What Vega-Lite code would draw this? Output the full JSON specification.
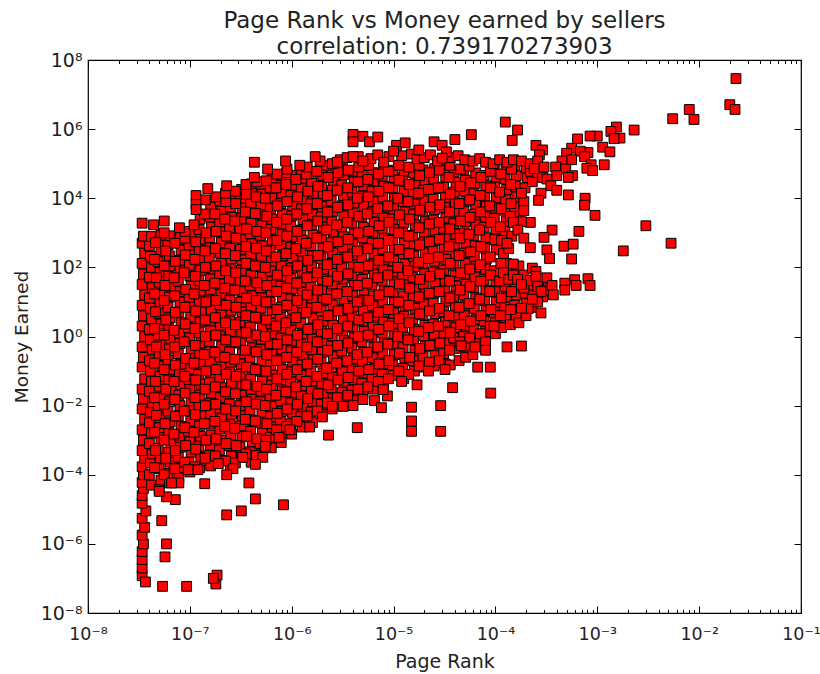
{"$schema":"https://vega.github.io/schema/vega-lite/v6.json","width":713,"height":553,"autosize":{"type":"none"},"padding":{"left":88,"top":60,"right":19,"bottom":61},"background":"#ffffff","title":{"text":["Page Rank vs Money earned by sellers","correlation: 0.739170273903"],"font":"DejaVu Sans","fontSize":23,"fontWeight":"normal","color":"#222222","lineHeight":26,"offset":-8},"config":{"view":{"stroke":"#000000","strokeWidth":1.2},"font":"DejaVu Sans"},"data":{"values":[
{"rank":3.4e-8,"money":1.2e-7},{"rank":3.4e-8,"money":2e-7},{"rank":3.4e-8,"money":3.5e-7},{"rank":3.4e-8,"money":6e-7},{"rank":3.5e-8,"money":1e-6},{"rank":3.4e-8,"money":1.8e-6},{"rank":3.6e-8,"money":3e-6},{"rank":3.4e-8,"money":5.5e-6},{"rank":3.7e-8,"money":9e-6},{"rank":3.4e-8,"money":1.5e-5},{"rank":3.4e-8,"money":2.5e-5},{"rank":3.5e-8,"money":4e-5},{"rank":3.4e-8,"money":6e-5},{"rank":3.5e-8,"money":1e-4},{"rank":3.4e-8,"money":1.7e-4},{"rank":3.6e-8,"money":3e-4},{"rank":3.4e-8,"money":5e-4},{"rank":3.5e-8,"money":1e-3},{"rank":3.4e-8,"money":2e-3},{"rank":3.6e-8,"money":4e-3},{"rank":3.4e-8,"money":8e-3},{"rank":3.5e-8,"money":0.016},{"rank":3.4e-8,"money":0.03},{"rank":3.6e-8,"money":0.06},{"rank":3.4e-8,"money":0.13},{"rank":3.5e-8,"money":0.25},{"rank":3.4e-8,"money":0.5},{"rank":3.6e-8,"money":1},{"rank":3.4e-8,"money":2},{"rank":3.5e-8,"money":4},{"rank":3.4e-8,"money":8},{"rank":3.6e-8,"money":16},{"rank":3.4e-8,"money":32},{"rank":3.5e-8,"money":64},{"rank":3.4e-8,"money":130},{"rank":3.6e-8,"money":260},{"rank":3.4e-8,"money":500},{"rank":3.5e-8,"money":800},
{"rank":4.2e-8,"money":5e-5},{"rank":4e-8,"money":1e-4},{"rank":4.1e-8,"money":2.2e-4},{"rank":4.3e-8,"money":4e-4},{"rank":4e-8,"money":8e-4},{"rank":4.2e-8,"money":1.6e-3},{"rank":4e-8,"money":3.2e-3},{"rank":4.1e-8,"money":6.5e-3},{"rank":4.3e-8,"money":0.012},{"rank":4e-8,"money":0.026},{"rank":4.2e-8,"money":0.05},{"rank":4.1e-8,"money":0.1},{"rank":4e-8,"money":0.2},{"rank":4.3e-8,"money":0.42},{"rank":4.1e-8,"money":0.8},{"rank":4e-8,"money":1.6},{"rank":4.2e-8,"money":3.3},{"rank":4.1e-8,"money":6.5},{"rank":4e-8,"money":13},{"rank":4.3e-8,"money":26},{"rank":4e-8,"money":52},{"rank":4.2e-8,"money":100},{"rank":4.1e-8,"money":210},{"rank":4e-8,"money":420},{"rank":4.2e-8,"money":780},
{"rank":5e-8,"money":3.8e-5},{"rank":5.2e-8,"money":7e-5},{"rank":5e-8,"money":1.5e-4},{"rank":5.1e-8,"money":2.9e-4},{"rank":4.9e-8,"money":5.8e-4},{"rank":5.2e-8,"money":1.1e-3},{"rank":5e-8,"money":2.3e-3},{"rank":5.1e-8,"money":4.5e-3},{"rank":4.9e-8,"money":9e-3},{"rank":5.2e-8,"money":0.018},{"rank":5e-8,"money":0.036},{"rank":5.1e-8,"money":0.07},{"rank":5.3e-8,"money":0.14},{"rank":5e-8,"money":0.28},{"rank":5.1e-8,"money":0.58},{"rank":4.9e-8,"money":1.1},{"rank":5.2e-8,"money":2.3},{"rank":5e-8,"money":4.6},{"rank":5.1e-8,"money":9},{"rank":5.3e-8,"money":18},{"rank":5e-8,"money":37},{"rank":5.1e-8,"money":72},{"rank":4.9e-8,"money":145},{"rank":5.2e-8,"money":290},{"rank":5e-8,"money":560},{"rank":5.2e-8,"money":850},
{"rank":6.3e-8,"money":5.8e-5},{"rank":6.1e-8,"money":1.1e-4},{"rank":6.4e-8,"money":2.3e-4},{"rank":6.2e-8,"money":4.4e-4},{"rank":6.5e-8,"money":8.5e-4},{"rank":6.2e-8,"money":1.7e-3},{"rank":6.4e-8,"money":3.4e-3},{"rank":6.1e-8,"money":7e-3},{"rank":6.3e-8,"money":0.013},{"rank":6.5e-8,"money":0.027},{"rank":6.2e-8,"money":0.055},{"rank":6.4e-8,"money":0.11},{"rank":6.1e-8,"money":0.21},{"rank":6.3e-8,"money":0.44},{"rank":6.5e-8,"money":0.85},{"rank":6.2e-8,"money":1.7},{"rank":6.4e-8,"money":3.5},{"rank":6.1e-8,"money":7},{"rank":6.3e-8,"money":14},{"rank":6.5e-8,"money":27},{"rank":6.2e-8,"money":55},{"rank":6.4e-8,"money":110},{"rank":6.3e-8,"money":215},{"rank":6.1e-8,"money":440},{"rank":6.4e-8,"money":820},
{"rank":7.8e-8,"money":8e-5},{"rank":8e-8,"money":1.6e-4},{"rank":7.7e-8,"money":3.2e-4},{"rank":8.1e-8,"money":6.3e-4},{"rank":7.9e-8,"money":1.3e-3},{"rank":8.2e-8,"money":2.5e-3},{"rank":7.7e-8,"money":5e-3},{"rank":8e-8,"money":0.01},{"rank":7.8e-8,"money":0.02},{"rank":8.2e-8,"money":0.04},{"rank":7.9e-8,"money":0.08},{"rank":8.1e-8,"money":0.16},{"rank":7.7e-8,"money":0.32},{"rank":8e-8,"money":0.63},{"rank":7.9e-8,"money":1.25},{"rank":8.2e-8,"money":2.5},{"rank":7.8e-8,"money":5},{"rank":8e-8,"money":10},{"rank":8.1e-8,"money":20},{"rank":7.7e-8,"money":40},{"rank":8e-8,"money":80},{"rank":7.9e-8,"money":160},{"rank":8.2e-8,"money":320},{"rank":7.8e-8,"money":630},{"rank":8.1e-8,"money":950},
{"rank":1e-7,"money":1.2e-4},{"rank":9.8e-8,"money":2.3e-4},{"rank":1.03e-7,"money":4.5e-4},{"rank":1e-7,"money":9e-4},{"rank":9.7e-8,"money":1.8e-3},{"rank":1.02e-7,"money":3.6e-3},{"rank":9.9e-8,"money":7.2e-3},{"rank":1.03e-7,"money":0.014},{"rank":1e-7,"money":0.029},{"rank":9.8e-8,"money":0.057},{"rank":1.02e-7,"money":0.115},{"rank":9.9e-8,"money":0.23},{"rank":1.03e-7,"money":0.45},{"rank":1e-7,"money":0.9},{"rank":9.7e-8,"money":1.8},{"rank":1.02e-7,"money":3.6},{"rank":1e-7,"money":7.2},{"rank":9.8e-8,"money":14},{"rank":1.03e-7,"money":29},{"rank":1e-7,"money":57},{"rank":9.9e-8,"money":115},{"rank":1.02e-7,"money":230},{"rank":9.8e-8,"money":450},{"rank":1.03e-7,"money":900},
{"rank":1.25e-7,"money":1.6e-4},{"rank":1.28e-7,"money":3.2e-4},{"rank":1.22e-7,"money":6.5e-4},{"rank":1.27e-7,"money":1.3e-3},{"rank":1.24e-7,"money":2.6e-3},{"rank":1.29e-7,"money":5e-3},{"rank":1.23e-7,"money":0.01},{"rank":1.26e-7,"money":0.02},{"rank":1.28e-7,"money":0.041},{"rank":1.22e-7,"money":0.08},{"rank":1.27e-7,"money":0.16},{"rank":1.25e-7,"money":0.33},{"rank":1.29e-7,"money":0.65},{"rank":1.23e-7,"money":1.3},{"rank":1.26e-7,"money":2.6},{"rank":1.28e-7,"money":5.2},{"rank":1.24e-7,"money":10.5},{"rank":1.27e-7,"money":21},{"rank":1.22e-7,"money":42},{"rank":1.26e-7,"money":82},{"rank":1.29e-7,"money":165},{"rank":1.24e-7,"money":330},{"rank":1.27e-7,"money":650},{"rank":1.23e-7,"money":1250},{"rank":1.26e-7,"money":2500},
{"rank":1.6e-7,"money":1.8e-4},{"rank":1.55e-7,"money":3.6e-4},{"rank":1.58e-7,"money":7.2e-4},{"rank":1.62e-7,"money":1.4e-3},{"rank":1.55e-7,"money":2.9e-3},{"rank":1.6e-7,"money":5.8e-3},{"rank":1.57e-7,"money":0.0115},{"rank":1.63e-7,"money":0.023},{"rank":1.56e-7,"money":0.046},{"rank":1.6e-7,"money":0.09},{"rank":1.58e-7,"money":0.18},{"rank":1.62e-7,"money":0.37},{"rank":1.55e-7,"money":0.72},{"rank":1.6e-7,"money":1.45},{"rank":1.57e-7,"money":2.9},{"rank":1.63e-7,"money":5.8},{"rank":1.56e-7,"money":11.5},{"rank":1.6e-7,"money":23},{"rank":1.58e-7,"money":46},{"rank":1.62e-7,"money":92},{"rank":1.55e-7,"money":185},{"rank":1.6e-7,"money":370},{"rank":1.57e-7,"money":720},{"rank":1.63e-7,"money":1450},{"rank":1.58e-7,"money":2900},{"rank":1.6e-7,"money":5500},
{"rank":2e-7,"money":2.6e-4},{"rank":1.95e-7,"money":5.2e-4},{"rank":2.03e-7,"money":1e-3},{"rank":1.97e-7,"money":2.1e-3},{"rank":2.05e-7,"money":4.2e-3},{"rank":1.98e-7,"money":8.4e-3},{"rank":2e-7,"money":0.017},{"rank":2.04e-7,"money":0.033},{"rank":1.96e-7,"money":0.066},{"rank":2.02e-7,"money":0.13},{"rank":1.98e-7,"money":0.26},{"rank":2.05e-7,"money":0.52},{"rank":1.95e-7,"money":1.05},{"rank":2e-7,"money":2.1},{"rank":2.03e-7,"money":4.2},{"rank":1.97e-7,"money":8.4},{"rank":2.05e-7,"money":17},{"rank":2e-7,"money":33},{"rank":1.96e-7,"money":66},{"rank":2.02e-7,"money":130},{"rank":1.98e-7,"money":260},{"rank":2.04e-7,"money":520},{"rank":2e-7,"money":1050},{"rank":1.96e-7,"money":2100},{"rank":2.03e-7,"money":4200},{"rank":1.97e-7,"money":8400},
{"rank":2.5e-7,"money":1.7e-4},{"rank":2.55e-7,"money":3.4e-4},{"rank":2.45e-7,"money":7e-4},{"rank":2.52e-7,"money":1.4e-3},{"rank":2.48e-7,"money":2.8e-3},{"rank":2.57e-7,"money":5.6e-3},{"rank":2.44e-7,"money":0.011},{"rank":2.5e-7,"money":0.022},{"rank":2.55e-7,"money":0.045},{"rank":2.47e-7,"money":0.09},{"rank":2.52e-7,"money":0.18},{"rank":2.45e-7,"money":0.36},{"rank":2.56e-7,"money":0.7},{"rank":2.5e-7,"money":1.4},{"rank":2.46e-7,"money":2.8},{"rank":2.54e-7,"money":5.7},{"rank":2.48e-7,"money":11},{"rank":2.56e-7,"money":22},{"rank":2.44e-7,"money":45},{"rank":2.5e-7,"money":90},{"rank":2.55e-7,"money":180},{"rank":2.47e-7,"money":360},{"rank":2.52e-7,"money":720},{"rank":2.45e-7,"money":1400},{"rank":2.56e-7,"money":2800},{"rank":2.5e-7,"money":5600},{"rank":2.47e-7,"money":11000},
{"rank":3.2e-7,"money":3.2e-4},{"rank":3.1e-7,"money":6.4e-4},{"rank":3.24e-7,"money":1.3e-3},{"rank":3.15e-7,"money":2.6e-3},{"rank":3.27e-7,"money":5.1e-3},{"rank":3.1e-7,"money":0.01},{"rank":3.2e-7,"money":0.02},{"rank":3.25e-7,"money":0.04},{"rank":3.12e-7,"money":0.08},{"rank":3.2e-7,"money":0.16},{"rank":3.28e-7,"money":0.32},{"rank":3.14e-7,"money":0.64},{"rank":3.22e-7,"money":1.3},{"rank":3.1e-7,"money":2.6},{"rank":3.25e-7,"money":5.2},{"rank":3.16e-7,"money":10},{"rank":3.27e-7,"money":20},{"rank":3.12e-7,"money":41},{"rank":3.2e-7,"money":82},{"rank":3.24e-7,"money":165},{"rank":3.14e-7,"money":330},{"rank":3.26e-7,"money":650},{"rank":3.1e-7,"money":1300},{"rank":3.2e-7,"money":2600},{"rank":3.25e-7,"money":5200},{"rank":3.15e-7,"money":10000},{"rank":3.22e-7,"money":18000},
{"rank":4e-7,"money":2.3e-4},{"rank":3.9e-7,"money":4.6e-4},{"rank":4.1e-7,"money":9e-4},{"rank":3.95e-7,"money":1.8e-3},{"rank":4.05e-7,"money":3.7e-3},{"rank":3.9e-7,"money":7.4e-3},{"rank":4.1e-7,"money":0.015},{"rank":4e-7,"money":0.03},{"rank":3.95e-7,"money":0.059},{"rank":4.05e-7,"money":0.12},{"rank":3.9e-7,"money":0.24},{"rank":4.1e-7,"money":0.47},{"rank":4e-7,"money":0.95},{"rank":3.92e-7,"money":1.9},{"rank":4.08e-7,"money":3.8},{"rank":3.98e-7,"money":7.5},{"rank":4.1e-7,"money":15},{"rank":3.9e-7,"money":30},{"rank":4e-7,"money":60},{"rank":4.05e-7,"money":120},{"rank":3.95e-7,"money":240},{"rank":4.1e-7,"money":480},{"rank":3.9e-7,"money":950},{"rank":4e-7,"money":1900},{"rank":4.08e-7,"money":3800},{"rank":3.95e-7,"money":7500},{"rank":4.05e-7,"money":15000},{"rank":4e-7,"money":26000},
{"rank":5e-7,"money":4e-4},{"rank":4.9e-7,"money":8e-4},{"rank":5.15e-7,"money":1.6e-3},{"rank":4.95e-7,"money":3.2e-3},{"rank":5.1e-7,"money":6.4e-3},{"rank":4.9e-7,"money":0.013},{"rank":5e-7,"money":0.026},{"rank":5.15e-7,"money":0.052},{"rank":4.95e-7,"money":0.1},{"rank":5.1e-7,"money":0.2},{"rank":4.9e-7,"money":0.42},{"rank":5.05e-7,"money":0.84},{"rank":5.15e-7,"money":1.7},{"rank":4.9e-7,"money":3.3},{"rank":5e-7,"money":6.6},{"rank":5.1e-7,"money":13},{"rank":4.95e-7,"money":26},{"rank":5.15e-7,"money":53},{"rank":4.9e-7,"money":105},{"rank":5.05e-7,"money":210},{"rank":5.15e-7,"money":420},{"rank":4.95e-7,"money":840},{"rank":5.1e-7,"money":1650},{"rank":4.9e-7,"money":3300},{"rank":5e-7,"money":6600},{"rank":5.15e-7,"money":13000},{"rank":4.95e-7,"money":26000},
{"rank":6.3e-7,"money":6e-4},{"rank":6.15e-7,"money":1.2e-3},{"rank":6.45e-7,"money":2.4e-3},{"rank":6.2e-7,"money":4.8e-3},{"rank":6.4e-7,"money":9.6e-3},{"rank":6.15e-7,"money":0.019},{"rank":6.3e-7,"money":0.038},{"rank":6.45e-7,"money":0.077},{"rank":6.2e-7,"money":0.15},{"rank":6.35e-7,"money":0.31},{"rank":6.15e-7,"money":0.62},{"rank":6.45e-7,"money":1.2},{"rank":6.25e-7,"money":2.4},{"rank":6.4e-7,"money":4.9},{"rank":6.15e-7,"money":9.8},{"rank":6.3e-7,"money":20},{"rank":6.45e-7,"money":39},{"rank":6.2e-7,"money":78},{"rank":6.35e-7,"money":155},{"rank":6.15e-7,"money":310},{"rank":6.45e-7,"money":620},{"rank":6.25e-7,"money":1250},{"rank":6.4e-7,"money":2500},{"rank":6.2e-7,"money":5000},{"rank":6.35e-7,"money":10000},{"rank":6.15e-7,"money":20000},{"rank":6.4e-7,"money":38000},
{"rank":7.9e-7,"money":8.5e-4},{"rank":8.1e-7,"money":1.7e-3},{"rank":7.75e-7,"money":3.4e-3},{"rank":8e-7,"money":6.8e-3},{"rank":7.8e-7,"money":0.014},{"rank":8.1e-7,"money":0.027},{"rank":7.9e-7,"money":0.055},{"rank":8.05e-7,"money":0.11},{"rank":7.75e-7,"money":0.22},{"rank":8e-7,"money":0.44},{"rank":7.85e-7,"money":0.88},{"rank":8.1e-7,"money":1.75},{"rank":7.75e-7,"money":3.5},{"rank":7.95e-7,"money":7},{"rank":8.1e-7,"money":14},{"rank":7.8e-7,"money":28},{"rank":8e-7,"money":56},{"rank":7.9e-7,"money":110},{"rank":8.1e-7,"money":220},{"rank":7.75e-7,"money":450},{"rank":8e-7,"money":890},{"rank":7.85e-7,"money":1800},{"rank":8.1e-7,"money":3500},{"rank":7.8e-7,"money":7000},{"rank":8e-7,"money":14000},{"rank":7.9e-7,"money":28000},{"rank":8.05e-7,"money":45000},
{"rank":1e-6,"money":1.5e-3},{"rank":9.75e-7,"money":3e-3},{"rank":1.02e-6,"money":6e-3},{"rank":9.8e-7,"money":0.012},{"rank":1.01e-6,"money":0.024},{"rank":9.75e-7,"money":0.048},{"rank":1e-6,"money":0.095},{"rank":1.02e-6,"money":0.19},{"rank":9.85e-7,"money":0.38},{"rank":1.01e-6,"money":0.76},{"rank":9.75e-7,"money":1.5},{"rank":1e-6,"money":3},{"rank":1.02e-6,"money":6.1},{"rank":9.8e-7,"money":12},{"rank":1.01e-6,"money":24},{"rank":9.75e-7,"money":48},{"rank":1e-6,"money":96},{"rank":1.02e-6,"money":190},{"rank":9.85e-7,"money":380},{"rank":1.01e-6,"money":770},{"rank":9.75e-7,"money":1550},{"rank":1e-6,"money":3100},{"rank":1.02e-6,"money":6100},{"rank":9.8e-7,"money":12000},{"rank":1.01e-6,"money":24000},{"rank":9.85e-7,"money":46000},
{"rank":1.26e-6,"money":2.4e-3},{"rank":1.23e-6,"money":4.8e-3},{"rank":1.29e-6,"money":9.5e-3},{"rank":1.24e-6,"money":0.019},{"rank":1.28e-6,"money":0.038},{"rank":1.23e-6,"money":0.076},{"rank":1.26e-6,"money":0.15},{"rank":1.29e-6,"money":0.3},{"rank":1.24e-6,"money":0.6},{"rank":1.27e-6,"money":1.2},{"rank":1.23e-6,"money":2.4},{"rank":1.29e-6,"money":4.8},{"rank":1.25e-6,"money":9.6},{"rank":1.28e-6,"money":19},{"rank":1.23e-6,"money":38},{"rank":1.26e-6,"money":77},{"rank":1.29e-6,"money":155},{"rank":1.24e-6,"money":300},{"rank":1.27e-6,"money":610},{"rank":1.23e-6,"money":1200},{"rank":1.29e-6,"money":2400},{"rank":1.25e-6,"money":4900},{"rank":1.28e-6,"money":9800},{"rank":1.24e-6,"money":19000},{"rank":1.27e-6,"money":38000},{"rank":1.25e-6,"money":60000},
{"rank":1.6e-6,"money":3.2e-3},{"rank":1.55e-6,"money":6.5e-3},{"rank":1.62e-6,"money":0.013},{"rank":1.56e-6,"money":0.026},{"rank":1.6e-6,"money":0.052},{"rank":1.54e-6,"money":0.1},{"rank":1.63e-6,"money":0.21},{"rank":1.57e-6,"money":0.42},{"rank":1.6e-6,"money":0.84},{"rank":1.55e-6,"money":1.7},{"rank":1.62e-6,"money":3.4},{"rank":1.57e-6,"money":6.7},{"rank":1.6e-6,"money":13},{"rank":1.54e-6,"money":27},{"rank":1.63e-6,"money":54},{"rank":1.57e-6,"money":105},{"rank":1.6e-6,"money":215},{"rank":1.55e-6,"money":430},{"rank":1.62e-6,"money":860},{"rank":1.56e-6,"money":1700},{"rank":1.6e-6,"money":3400},{"rank":1.54e-6,"money":6900},{"rank":1.63e-6,"money":14000},{"rank":1.57e-6,"money":27000},{"rank":1.6e-6,"money":52000},
{"rank":2e-6,"money":5.5e-3},{"rank":1.95e-6,"money":0.011},{"rank":2.05e-6,"money":0.022},{"rank":1.97e-6,"money":0.044},{"rank":2.03e-6,"money":0.088},{"rank":1.94e-6,"money":0.18},{"rank":2e-6,"money":0.35},{"rank":2.05e-6,"money":0.7},{"rank":1.96e-6,"money":1.4},{"rank":2.02e-6,"money":2.8},{"rank":1.95e-6,"money":5.6},{"rank":2.04e-6,"money":11},{"rank":1.97e-6,"money":22},{"rank":2e-6,"money":45},{"rank":2.05e-6,"money":90},{"rank":1.94e-6,"money":180},{"rank":2.02e-6,"money":360},{"rank":1.96e-6,"money":720},{"rank":2.04e-6,"money":1450},{"rank":1.95e-6,"money":2900},{"rank":2e-6,"money":5800},{"rank":2.05e-6,"money":11500},{"rank":1.97e-6,"money":23000},{"rank":2.02e-6,"money":46000},{"rank":1.96e-6,"money":78000},
{"rank":2.5e-6,"money":8e-3},{"rank":2.55e-6,"money":0.016},{"rank":2.44e-6,"money":0.033},{"rank":2.52e-6,"money":0.065},{"rank":2.47e-6,"money":0.13},{"rank":2.56e-6,"money":0.26},{"rank":2.45e-6,"money":0.52},{"rank":2.5e-6,"money":1.05},{"rank":2.54e-6,"money":2.1},{"rank":2.46e-6,"money":4.1},{"rank":2.53e-6,"money":8.2},{"rank":2.44e-6,"money":16},{"rank":2.5e-6,"money":33},{"rank":2.56e-6,"money":66},{"rank":2.47e-6,"money":130},{"rank":2.52e-6,"money":260},{"rank":2.45e-6,"money":520},{"rank":2.55e-6,"money":1050},{"rank":2.48e-6,"money":2100},{"rank":2.53e-6,"money":4200},{"rank":2.44e-6,"money":8400},{"rank":2.5e-6,"money":17000},{"rank":2.56e-6,"money":33000},{"rank":2.47e-6,"money":62000},
{"rank":3.2e-6,"money":0.012},{"rank":3.1e-6,"money":0.024},{"rank":3.25e-6,"money":0.048},{"rank":3.13e-6,"money":0.095},{"rank":3.22e-6,"money":0.19},{"rank":3.1e-6,"money":0.38},{"rank":3.26e-6,"money":0.76},{"rank":3.16e-6,"money":1.5},{"rank":3.22e-6,"money":3},{"rank":3.1e-6,"money":6},{"rank":3.25e-6,"money":12},{"rank":3.14e-6,"money":24},{"rank":3.22e-6,"money":48},{"rank":3.1e-6,"money":96},{"rank":3.26e-6,"money":190},{"rank":3.16e-6,"money":380},{"rank":3.22e-6,"money":770},{"rank":3.1e-6,"money":1500},{"rank":3.25e-6,"money":3100},{"rank":3.14e-6,"money":6100},{"rank":3.22e-6,"money":12000},{"rank":3.1e-6,"money":24000},{"rank":3.25e-6,"money":48000},{"rank":3.16e-6,"money":80000},
{"rank":4e-6,"money":0.014},{"rank":3.9e-6,"money":0.028},{"rank":4.1e-6,"money":0.057},{"rank":3.95e-6,"money":0.11},{"rank":4.05e-6,"money":0.23},{"rank":3.9e-6,"money":0.46},{"rank":4.1e-6,"money":0.92},{"rank":4e-6,"money":1.85},{"rank":3.92e-6,"money":3.7},{"rank":4.07e-6,"money":7.4},{"rank":3.95e-6,"money":15},{"rank":4.1e-6,"money":30},{"rank":3.9e-6,"money":59},{"rank":4e-6,"money":118},{"rank":4.05e-6,"money":235},{"rank":3.95e-6,"money":470},{"rank":4.1e-6,"money":940},{"rank":3.9e-6,"money":1900},{"rank":4e-6,"money":3700},{"rank":4.07e-6,"money":7500},{"rank":3.92e-6,"money":15000},{"rank":4.1e-6,"money":30000},{"rank":3.95e-6,"money":60000},
{"rank":5e-6,"money":0.022},{"rank":4.88e-6,"money":0.044},{"rank":5.12e-6,"money":0.088},{"rank":4.95e-6,"money":0.18},{"rank":5.08e-6,"money":0.35},{"rank":4.9e-6,"money":0.7},{"rank":5.15e-6,"money":1.4},{"rank":4.97e-6,"money":2.8},{"rank":5.05e-6,"money":5.6},{"rank":4.88e-6,"money":11},{"rank":5.12e-6,"money":22},{"rank":4.95e-6,"money":45},{"rank":5.08e-6,"money":90},{"rank":4.9e-6,"money":180},{"rank":5.15e-6,"money":360},{"rank":4.97e-6,"money":720},{"rank":5.05e-6,"money":1450},{"rank":4.88e-6,"money":2900},{"rank":5.12e-6,"money":5800},{"rank":4.95e-6,"money":11500},{"rank":5.08e-6,"money":23000},{"rank":4.9e-6,"money":46000},
{"rank":6.3e-6,"money":0.03},{"rank":6.15e-6,"money":0.06},{"rank":6.45e-6,"money":0.12},{"rank":6.2e-6,"money":0.24},{"rank":6.4e-6,"money":0.48},{"rank":6.15e-6,"money":0.96},{"rank":6.3e-6,"money":1.9},{"rank":6.45e-6,"money":3.9},{"rank":6.2e-6,"money":7.7},{"rank":6.35e-6,"money":15},{"rank":6.15e-6,"money":31},{"rank":6.45e-6,"money":62},{"rank":6.25e-6,"money":125},{"rank":6.4e-6,"money":250},{"rank":6.15e-6,"money":500},{"rank":6.3e-6,"money":1000},{"rank":6.45e-6,"money":2000},{"rank":6.2e-6,"money":4000},{"rank":6.35e-6,"money":8000},{"rank":6.15e-6,"money":16000},{"rank":6.4e-6,"money":32000},{"rank":6.25e-6,"money":55000},
{"rank":8e-6,"money":0.04},{"rank":7.75e-6,"money":0.08},{"rank":8.1e-6,"money":0.16},{"rank":7.85e-6,"money":0.33},{"rank":8.05e-6,"money":0.66},{"rank":7.75e-6,"money":1.3},{"rank":8e-6,"money":2.6},{"rank":8.15e-6,"money":5.2},{"rank":7.85e-6,"money":10.5},{"rank":8.05e-6,"money":21},{"rank":7.75e-6,"money":42},{"rank":8e-6,"money":84},{"rank":8.15e-6,"money":170},{"rank":7.85e-6,"money":340},{"rank":8.05e-6,"money":680},{"rank":7.75e-6,"money":1350},{"rank":8e-6,"money":2700},{"rank":8.15e-6,"money":5400},{"rank":7.85e-6,"money":11000},{"rank":8.05e-6,"money":22000},{"rank":7.75e-6,"money":44000},{"rank":8e-6,"money":75000},
{"rank":1e-5,"money":0.075},{"rank":9.75e-6,"money":0.15},{"rank":1.02e-5,"money":0.3},{"rank":9.85e-6,"money":0.6},{"rank":1.01e-5,"money":1.2},{"rank":9.75e-6,"money":2.4},{"rank":1e-5,"money":4.8},{"rank":1.02e-5,"money":9.6},{"rank":9.85e-6,"money":19},{"rank":1.01e-5,"money":38},{"rank":9.75e-6,"money":77},{"rank":1e-5,"money":155},{"rank":1.02e-5,"money":310},{"rank":9.85e-6,"money":620},{"rank":1.01e-5,"money":1250},{"rank":9.75e-6,"money":2500},{"rank":1e-5,"money":5000},{"rank":1.02e-5,"money":10000},{"rank":9.85e-6,"money":20000},{"rank":1.01e-5,"money":40000},{"rank":9.8e-6,"money":65000},
{"rank":1.26e-5,"money":0.06},{"rank":1.23e-5,"money":0.12},{"rank":1.29e-5,"money":0.24},{"rank":1.24e-5,"money":0.48},{"rank":1.28e-5,"money":0.95},{"rank":1.23e-5,"money":1.9},{"rank":1.26e-5,"money":3.8},{"rank":1.29e-5,"money":7.6},{"rank":1.24e-5,"money":15},{"rank":1.27e-5,"money":31},{"rank":1.23e-5,"money":62},{"rank":1.29e-5,"money":125},{"rank":1.25e-5,"money":250},{"rank":1.28e-5,"money":500},{"rank":1.23e-5,"money":1000},{"rank":1.26e-5,"money":2000},{"rank":1.29e-5,"money":4000},{"rank":1.24e-5,"money":8000},{"rank":1.27e-5,"money":16000},{"rank":1.23e-5,"money":32000},{"rank":1.27e-5,"money":62000},
{"rank":1.6e-5,"money":0.1},{"rank":1.55e-5,"money":0.2},{"rank":1.62e-5,"money":0.4},{"rank":1.57e-5,"money":0.8},{"rank":1.6e-5,"money":1.6},{"rank":1.54e-5,"money":3.2},{"rank":1.63e-5,"money":6.5},{"rank":1.57e-5,"money":13},{"rank":1.6e-5,"money":26},{"rank":1.55e-5,"money":52},{"rank":1.62e-5,"money":105},{"rank":1.57e-5,"money":210},{"rank":1.6e-5,"money":420},{"rank":1.54e-5,"money":840},{"rank":1.63e-5,"money":1700},{"rank":1.57e-5,"money":3400},{"rank":1.6e-5,"money":6800},{"rank":1.55e-5,"money":13500},{"rank":1.62e-5,"money":27000},{"rank":1.57e-5,"money":54000},
{"rank":2e-5,"money":0.13},{"rank":1.95e-5,"money":0.26},{"rank":2.05e-5,"money":0.52},{"rank":1.97e-5,"money":1.05},{"rank":2.03e-5,"money":2.1},{"rank":1.94e-5,"money":4.2},{"rank":2e-5,"money":8.4},{"rank":2.05e-5,"money":17},{"rank":1.96e-5,"money":33},{"rank":2.02e-5,"money":66},{"rank":1.95e-5,"money":130},{"rank":2.04e-5,"money":260},{"rank":1.97e-5,"money":520},{"rank":2e-5,"money":1050},{"rank":2.05e-5,"money":2100},{"rank":1.94e-5,"money":4200},{"rank":2.02e-5,"money":8400},{"rank":1.96e-5,"money":17000},{"rank":2.04e-5,"money":33000},{"rank":1.95e-5,"money":66000},
{"rank":2.5e-5,"money":0.14},{"rank":2.55e-5,"money":0.28},{"rank":2.45e-5,"money":0.57},{"rank":2.52e-5,"money":1.15},{"rank":2.47e-5,"money":2.3},{"rank":2.56e-5,"money":4.6},{"rank":2.45e-5,"money":9.2},{"rank":2.5e-5,"money":18},{"rank":2.54e-5,"money":37},{"rank":2.46e-5,"money":74},{"rank":2.53e-5,"money":150},{"rank":2.44e-5,"money":295},{"rank":2.5e-5,"money":590},{"rank":2.56e-5,"money":1180},{"rank":2.47e-5,"money":2350},{"rank":2.52e-5,"money":4700},{"rank":2.45e-5,"money":9400},{"rank":2.55e-5,"money":19000},{"rank":2.48e-5,"money":37000},{"rank":2.53e-5,"money":72000},
{"rank":3.2e-5,"money":0.16},{"rank":3.1e-5,"money":0.32},{"rank":3.25e-5,"money":0.65},{"rank":3.13e-5,"money":1.3},{"rank":3.22e-5,"money":2.6},{"rank":3.1e-5,"money":5.2},{"rank":3.26e-5,"money":10.5},{"rank":3.16e-5,"money":21},{"rank":3.22e-5,"money":42},{"rank":3.1e-5,"money":84},{"rank":3.25e-5,"money":170},{"rank":3.14e-5,"money":335},{"rank":3.22e-5,"money":670},{"rank":3.1e-5,"money":1350},{"rank":3.26e-5,"money":2700},{"rank":3.16e-5,"money":5400},{"rank":3.22e-5,"money":10500},{"rank":3.1e-5,"money":21000},{"rank":3.25e-5,"money":42000},{"rank":3.14e-5,"money":70000},
{"rank":4e-5,"money":0.45},{"rank":3.9e-5,"money":0.9},{"rank":4.1e-5,"money":1.8},{"rank":3.95e-5,"money":3.6},{"rank":4.05e-5,"money":7.2},{"rank":3.9e-5,"money":14.5},{"rank":4.1e-5,"money":29},{"rank":4e-5,"money":58},{"rank":3.92e-5,"money":115},{"rank":4.07e-5,"money":230},{"rank":3.95e-5,"money":460},{"rank":4.1e-5,"money":920},{"rank":3.9e-5,"money":1850},{"rank":4e-5,"money":3700},{"rank":4.05e-5,"money":7400},{"rank":3.95e-5,"money":15000},{"rank":4.1e-5,"money":29000},{"rank":3.9e-5,"money":58000},
{"rank":5e-5,"money":0.5},{"rank":4.88e-5,"money":1},{"rank":5.12e-5,"money":2},{"rank":4.95e-5,"money":4},{"rank":5.08e-5,"money":8},{"rank":4.9e-5,"money":16},{"rank":5.15e-5,"money":32},{"rank":4.97e-5,"money":64},{"rank":5.05e-5,"money":130},{"rank":4.88e-5,"money":260},{"rank":5.12e-5,"money":510},{"rank":4.95e-5,"money":1000},{"rank":5.08e-5,"money":2050},{"rank":4.9e-5,"money":4100},{"rank":5.15e-5,"money":8200},{"rank":4.97e-5,"money":16500},{"rank":5.05e-5,"money":33000},{"rank":4.9e-5,"money":66000},
{"rank":6.3e-5,"money":0.8},{"rank":6.15e-5,"money":1.6},{"rank":6.45e-5,"money":3.2},{"rank":6.2e-5,"money":6.5},{"rank":6.4e-5,"money":13},{"rank":6.15e-5,"money":26},{"rank":6.3e-5,"money":52},{"rank":6.45e-5,"money":105},{"rank":6.2e-5,"money":210},{"rank":6.35e-5,"money":420},{"rank":6.15e-5,"money":840},{"rank":6.45e-5,"money":1700},{"rank":6.25e-5,"money":3400},{"rank":6.4e-5,"money":6800},{"rank":6.15e-5,"money":13500},{"rank":6.3e-5,"money":27000},{"rank":6.4e-5,"money":54000},
{"rank":8e-5,"money":1.4},{"rank":7.75e-5,"money":2.8},{"rank":8.1e-5,"money":5.6},{"rank":7.85e-5,"money":11},{"rank":8.05e-5,"money":22},{"rank":7.75e-5,"money":45},{"rank":8e-5,"money":90},{"rank":8.15e-5,"money":180},{"rank":7.85e-5,"money":360},{"rank":8.05e-5,"money":720},{"rank":7.75e-5,"money":1450},{"rank":8e-5,"money":2900},{"rank":8.15e-5,"money":5800},{"rank":7.85e-5,"money":11500},{"rank":8.05e-5,"money":23000},{"rank":7.75e-5,"money":46000},
{"rank":1e-4,"money":2.5},{"rank":9.75e-5,"money":5},{"rank":1.02e-4,"money":10},{"rank":9.85e-5,"money":20},{"rank":1.01e-4,"money":40},{"rank":9.75e-5,"money":80},{"rank":1.02e-4,"money":320},{"rank":9.85e-5,"money":640},{"rank":1.01e-4,"money":1300},{"rank":9.75e-5,"money":2600},{"rank":1e-4,"money":5200},{"rank":1.02e-4,"money":10500},{"rank":9.85e-5,"money":21000},{"rank":1.01e-4,"money":42000},{"rank":9.75e-5,"money":70000},
{"rank":1.26e-4,"money":3.5},{"rank":1.23e-4,"money":7},{"rank":1.29e-4,"money":14},{"rank":1.24e-4,"money":28},{"rank":1.28e-4,"money":130},{"rank":1.24e-4,"money":1100},{"rank":1.28e-4,"money":2200},{"rank":1.23e-4,"money":4500},{"rank":1.26e-4,"money":9000},{"rank":1.29e-4,"money":18000},{"rank":1.24e-4,"money":36000},{"rank":1.27e-4,"money":70000},
{"rank":1.6e-4,"money":4},{"rank":1.55e-4,"money":8},{"rank":1.62e-4,"money":16},{"rank":1.57e-4,"money":32},{"rank":1.6e-4,"money":65},{"rank":1.55e-4,"money":5500},{"rank":1.62e-4,"money":11000},{"rank":1.57e-4,"money":22000},{"rank":1.6e-4,"money":45000},{"rank":1.55e-4,"money":90000},
{"rank":2e-4,"money":9},{"rank":1.95e-4,"money":18},{"rank":2.05e-4,"money":36},{"rank":1.95e-4,"money":20000},{"rank":2.05e-4,"money":40000},{"rank":2e-4,"money":75000},
{"rank":3.2e-4,"money":50},{"rank":3.3e-4,"money":26},{"rank":2.3e-4,"money":22},{"rank":2.5e-4,"money":12},{"rank":2.9e-4,"money":14},
{"rank":4.5e-8,"money":1.6e-4},{"rank":4.6e-8,"money":5e-4},{"rank":4.5e-8,"money":1.7e-3},{"rank":4.7e-8,"money":5.2e-3},{"rank":4.5e-8,"money":0.017},{"rank":4.6e-8,"money":0.05},{"rank":4.5e-8,"money":0.17},{"rank":4.7e-8,"money":0.5},{"rank":4.5e-8,"money":1.7},{"rank":4.6e-8,"money":5.2},{"rank":4.5e-8,"money":17},{"rank":4.7e-8,"money":50},{"rank":4.5e-8,"money":170},{"rank":4.6e-8,"money":520},
{"rank":5.6e-8,"money":1e-4},{"rank":5.8e-8,"money":3e-4},{"rank":5.6e-8,"money":1e-3},{"rank":5.7e-8,"money":3e-3},{"rank":5.6e-8,"money":0.011},{"rank":5.8e-8,"money":0.03},{"rank":5.6e-8,"money":0.11},{"rank":5.7e-8,"money":0.3},{"rank":5.6e-8,"money":1.1},{"rank":5.8e-8,"money":3},{"rank":5.6e-8,"money":11},{"rank":5.7e-8,"money":30},{"rank":5.6e-8,"money":110},{"rank":5.8e-8,"money":300},{"rank":5.6e-8,"money":1000},
{"rank":7.1e-8,"money":1.5e-4},{"rank":7.2e-8,"money":5e-4},{"rank":7e-8,"money":1.5e-3},{"rank":7.2e-8,"money":5e-3},{"rank":7.1e-8,"money":0.015},{"rank":7e-8,"money":0.05},{"rank":7.2e-8,"money":0.15},{"rank":7.1e-8,"money":0.5},{"rank":7e-8,"money":1.5},{"rank":7.2e-8,"money":5},{"rank":7.1e-8,"money":15},{"rank":7e-8,"money":50},{"rank":7.2e-8,"money":150},{"rank":7.1e-8,"money":500},
{"rank":8.9e-8,"money":2.3e-4},{"rank":9.1e-8,"money":7e-4},{"rank":8.9e-8,"money":2.3e-3},{"rank":8.8e-8,"money":7e-3},{"rank":9e-8,"money":0.023},{"rank":8.9e-8,"money":0.07},{"rank":9.1e-8,"money":0.23},{"rank":8.8e-8,"money":0.7},{"rank":9e-8,"money":2.3},{"rank":8.9e-8,"money":7},{"rank":9.1e-8,"money":23},{"rank":8.8e-8,"money":70},{"rank":9e-8,"money":230},{"rank":8.9e-8,"money":700},{"rank":9e-8,"money":1100},
{"rank":1.12e-7,"money":1.7e-4},{"rank":1.14e-7,"money":5.5e-4},{"rank":1.1e-7,"money":1.7e-3},{"rank":1.13e-7,"money":5.5e-3},{"rank":1.12e-7,"money":0.017},{"rank":1.14e-7,"money":0.055},{"rank":1.1e-7,"money":0.17},{"rank":1.13e-7,"money":0.55},{"rank":1.12e-7,"money":1.7},{"rank":1.14e-7,"money":5.5},{"rank":1.1e-7,"money":17},{"rank":1.13e-7,"money":55},{"rank":1.12e-7,"money":170},{"rank":1.14e-7,"money":550},{"rank":1.1e-7,"money":1700},
{"rank":1.41e-7,"money":3e-4},{"rank":1.44e-7,"money":1e-3},{"rank":1.39e-7,"money":3e-3},{"rank":1.42e-7,"money":0.01},{"rank":1.41e-7,"money":0.03},{"rank":1.44e-7,"money":0.1},{"rank":1.39e-7,"money":0.3},{"rank":1.42e-7,"money":1},{"rank":1.41e-7,"money":3},{"rank":1.44e-7,"money":10},{"rank":1.39e-7,"money":30},{"rank":1.42e-7,"money":100},{"rank":1.41e-7,"money":300},{"rank":1.44e-7,"money":1000},{"rank":1.39e-7,"money":3500},{"rank":1.42e-7,"money":9000},
{"rank":1.78e-7,"money":3.5e-4},{"rank":1.81e-7,"money":1.1e-3},{"rank":1.76e-7,"money":3.5e-3},{"rank":1.8e-7,"money":0.011},{"rank":1.78e-7,"money":0.035},{"rank":1.81e-7,"money":0.11},{"rank":1.76e-7,"money":0.35},{"rank":1.8e-7,"money":1.1},{"rank":1.78e-7,"money":3.5},{"rank":1.81e-7,"money":11},{"rank":1.76e-7,"money":35},{"rank":1.8e-7,"money":110},{"rank":1.78e-7,"money":350},{"rank":1.81e-7,"money":1100},{"rank":1.76e-7,"money":3500},{"rank":1.8e-7,"money":11000},
{"rank":2.24e-7,"money":2.5e-4},{"rank":2.28e-7,"money":8e-4},{"rank":2.2e-7,"money":2.5e-3},{"rank":2.25e-7,"money":8e-3},{"rank":2.24e-7,"money":0.025},{"rank":2.28e-7,"money":0.08},{"rank":2.2e-7,"money":0.25},{"rank":2.25e-7,"money":0.8},{"rank":2.24e-7,"money":2.5},{"rank":2.28e-7,"money":8},{"rank":2.2e-7,"money":25},{"rank":2.25e-7,"money":80},{"rank":2.24e-7,"money":250},{"rank":2.28e-7,"money":800},{"rank":2.2e-7,"money":2500},{"rank":2.25e-7,"money":8000},{"rank":2.24e-7,"money":14000},
{"rank":2.8e-7,"money":2.2e-4},{"rank":2.85e-7,"money":7e-4},{"rank":2.76e-7,"money":2.2e-3},{"rank":2.82e-7,"money":7e-3},{"rank":2.8e-7,"money":0.022},{"rank":2.85e-7,"money":0.07},{"rank":2.76e-7,"money":0.22},{"rank":2.82e-7,"money":0.7},{"rank":2.8e-7,"money":2.2},{"rank":2.85e-7,"money":7},{"rank":2.76e-7,"money":22},{"rank":2.82e-7,"money":70},{"rank":2.8e-7,"money":220},{"rank":2.85e-7,"money":700},{"rank":2.76e-7,"money":2200},{"rank":2.82e-7,"money":7000},{"rank":2.8e-7,"money":16000},
{"rank":3.55e-7,"money":4e-4},{"rank":3.6e-7,"money":1.3e-3},{"rank":3.5e-7,"money":4e-3},{"rank":3.57e-7,"money":0.013},{"rank":3.55e-7,"money":0.04},{"rank":3.6e-7,"money":0.13},{"rank":3.5e-7,"money":0.4},{"rank":3.57e-7,"money":1.3},{"rank":3.55e-7,"money":4},{"rank":3.6e-7,"money":13},{"rank":3.5e-7,"money":40},{"rank":3.57e-7,"money":130},{"rank":3.55e-7,"money":400},{"rank":3.6e-7,"money":1300},{"rank":3.5e-7,"money":4000},{"rank":3.57e-7,"money":13000},{"rank":3.55e-7,"money":25000},
{"rank":4.5e-7,"money":3.6e-4},{"rank":4.55e-7,"money":1.1e-3},{"rank":4.4e-7,"money":3.6e-3},{"rank":4.5e-7,"money":0.011},{"rank":4.55e-7,"money":0.036},{"rank":4.4e-7,"money":0.11},{"rank":4.5e-7,"money":0.36},{"rank":4.55e-7,"money":1.1},{"rank":4.4e-7,"money":3.6},{"rank":4.5e-7,"money":11},{"rank":4.55e-7,"money":36},{"rank":4.4e-7,"money":110},{"rank":4.5e-7,"money":360},{"rank":4.55e-7,"money":1100},{"rank":4.4e-7,"money":3600},{"rank":4.5e-7,"money":11000},{"rank":4.55e-7,"money":30000},
{"rank":5.6e-7,"money":1e-3},{"rank":5.7e-7,"money":3e-3},{"rank":5.5e-7,"money":0.01},{"rank":5.65e-7,"money":0.03},{"rank":5.6e-7,"money":0.1},{"rank":5.7e-7,"money":0.3},{"rank":5.5e-7,"money":1},{"rank":5.65e-7,"money":3},{"rank":5.6e-7,"money":10},{"rank":5.7e-7,"money":30},{"rank":5.5e-7,"money":100},{"rank":5.65e-7,"money":300},{"rank":5.6e-7,"money":1000},{"rank":5.7e-7,"money":3000},{"rank":5.5e-7,"money":10000},{"rank":5.65e-7,"money":32000},
{"rank":7.1e-7,"money":2e-3},{"rank":7.2e-7,"money":6e-3},{"rank":7e-7,"money":0.02},{"rank":7.15e-7,"money":0.06},{"rank":7.1e-7,"money":0.2},{"rank":7.2e-7,"money":0.6},{"rank":7e-7,"money":2},{"rank":7.15e-7,"money":6},{"rank":7.1e-7,"money":20},{"rank":7.2e-7,"money":60},{"rank":7e-7,"money":200},{"rank":7.15e-7,"money":600},{"rank":7.1e-7,"money":2000},{"rank":7.2e-7,"money":6000},{"rank":7e-7,"money":20000},{"rank":7.15e-7,"money":50000},
{"rank":8.9e-7,"money":2.5e-3},{"rank":9e-7,"money":8e-3},{"rank":8.8e-7,"money":0.025},{"rank":8.95e-7,"money":0.08},{"rank":8.9e-7,"money":0.25},{"rank":9e-7,"money":0.8},{"rank":8.8e-7,"money":2.5},{"rank":8.95e-7,"money":8},{"rank":8.9e-7,"money":25},{"rank":9e-7,"money":80},{"rank":8.8e-7,"money":250},{"rank":8.95e-7,"money":800},{"rank":8.9e-7,"money":2500},{"rank":9e-7,"money":8000},{"rank":8.8e-7,"money":25000},{"rank":8.95e-7,"money":55000},
{"rank":1.12e-6,"money":3.5e-3},{"rank":1.14e-6,"money":0.011},{"rank":1.1e-6,"money":0.035},{"rank":1.13e-6,"money":0.11},{"rank":1.12e-6,"money":0.35},{"rank":1.14e-6,"money":1.1},{"rank":1.1e-6,"money":3.5},{"rank":1.13e-6,"money":11},{"rank":1.12e-6,"money":35},{"rank":1.14e-6,"money":110},{"rank":1.1e-6,"money":350},{"rank":1.13e-6,"money":1100},{"rank":1.12e-6,"money":3500},{"rank":1.14e-6,"money":11000},{"rank":1.1e-6,"money":35000},
{"rank":1.41e-6,"money":5e-3},{"rank":1.44e-6,"money":0.016},{"rank":1.39e-6,"money":0.05},{"rank":1.42e-6,"money":0.16},{"rank":1.41e-6,"money":0.5},{"rank":1.44e-6,"money":1.6},{"rank":1.39e-6,"money":5},{"rank":1.42e-6,"money":16},{"rank":1.41e-6,"money":50},{"rank":1.44e-6,"money":160},{"rank":1.39e-6,"money":500},{"rank":1.42e-6,"money":1600},{"rank":1.41e-6,"money":5000},{"rank":1.44e-6,"money":16000},{"rank":1.39e-6,"money":50000},{"rank":1.42e-6,"money":80000},
{"rank":1.78e-6,"money":7e-3},{"rank":1.81e-6,"money":0.022},{"rank":1.76e-6,"money":0.07},{"rank":1.8e-6,"money":0.22},{"rank":1.78e-6,"money":0.7},{"rank":1.81e-6,"money":2.2},{"rank":1.76e-6,"money":7},{"rank":1.8e-6,"money":22},{"rank":1.78e-6,"money":70},{"rank":1.81e-6,"money":220},{"rank":1.76e-6,"money":700},{"rank":1.8e-6,"money":2200},{"rank":1.78e-6,"money":7000},{"rank":1.81e-6,"money":22000},{"rank":1.76e-6,"money":60000},
{"rank":2.24e-6,"money":0.012},{"rank":2.28e-6,"money":0.04},{"rank":2.2e-6,"money":0.12},{"rank":2.25e-6,"money":0.4},{"rank":2.24e-6,"money":1.2},{"rank":2.28e-6,"money":4},{"rank":2.2e-6,"money":12},{"rank":2.25e-6,"money":40},{"rank":2.24e-6,"money":120},{"rank":2.28e-6,"money":400},{"rank":2.2e-6,"money":1200},{"rank":2.25e-6,"money":4000},{"rank":2.24e-6,"money":12000},{"rank":2.28e-6,"money":40000},{"rank":2.2e-6,"money":90000},
{"rank":2.8e-6,"money":0.017},{"rank":2.85e-6,"money":0.055},{"rank":2.76e-6,"money":0.17},{"rank":2.82e-6,"money":0.55},{"rank":2.8e-6,"money":1.7},{"rank":2.85e-6,"money":5.5},{"rank":2.76e-6,"money":17},{"rank":2.82e-6,"money":55},{"rank":2.8e-6,"money":170},{"rank":2.85e-6,"money":550},{"rank":2.76e-6,"money":1700},{"rank":2.82e-6,"money":5500},{"rank":2.8e-6,"money":17000},{"rank":2.85e-6,"money":55000},
{"rank":3.55e-6,"money":0.02},{"rank":3.6e-6,"money":0.065},{"rank":3.5e-6,"money":0.2},{"rank":3.57e-6,"money":0.65},{"rank":3.55e-6,"money":2},{"rank":3.6e-6,"money":6.5},{"rank":3.5e-6,"money":20},{"rank":3.57e-6,"money":65},{"rank":3.55e-6,"money":200},{"rank":3.6e-6,"money":650},{"rank":3.5e-6,"money":2000},{"rank":3.57e-6,"money":6500},{"rank":3.55e-6,"money":20000},{"rank":3.6e-6,"money":65000},
{"rank":4.5e-6,"money":0.03},{"rank":4.55e-6,"money":0.1},{"rank":4.4e-6,"money":0.3},{"rank":4.5e-6,"money":1},{"rank":4.55e-6,"money":3},{"rank":4.4e-6,"money":10},{"rank":4.5e-6,"money":30},{"rank":4.55e-6,"money":100},{"rank":4.4e-6,"money":300},{"rank":4.5e-6,"money":1000},{"rank":4.55e-6,"money":3000},{"rank":4.4e-6,"money":10000},{"rank":4.5e-6,"money":30000},{"rank":4.55e-6,"money":80000},
{"rank":5.6e-6,"money":0.035},{"rank":5.7e-6,"money":0.11},{"rank":5.5e-6,"money":0.35},{"rank":5.65e-6,"money":1.1},{"rank":5.6e-6,"money":3.5},{"rank":5.7e-6,"money":11},{"rank":5.5e-6,"money":35},{"rank":5.65e-6,"money":110},{"rank":5.6e-6,"money":350},{"rank":5.7e-6,"money":1100},{"rank":5.5e-6,"money":3500},{"rank":5.65e-6,"money":11000},{"rank":5.6e-6,"money":35000},{"rank":5.7e-6,"money":90000},
{"rank":7.1e-6,"money":0.05},{"rank":7.2e-6,"money":0.16},{"rank":7e-6,"money":0.5},{"rank":7.15e-6,"money":1.6},{"rank":7.1e-6,"money":5},{"rank":7.2e-6,"money":16},{"rank":7e-6,"money":50},{"rank":7.15e-6,"money":160},{"rank":7.1e-6,"money":500},{"rank":7.2e-6,"money":1600},{"rank":7e-6,"money":5000},{"rank":7.15e-6,"money":16000},{"rank":7.1e-6,"money":50000},
{"rank":8.9e-6,"money":0.06},{"rank":9e-6,"money":0.2},{"rank":8.8e-6,"money":0.6},{"rank":8.95e-6,"money":2},{"rank":8.9e-6,"money":6},{"rank":9e-6,"money":20},{"rank":8.8e-6,"money":60},{"rank":8.95e-6,"money":200},{"rank":8.9e-6,"money":600},{"rank":9e-6,"money":2000},{"rank":8.8e-6,"money":6000},{"rank":8.95e-6,"money":20000},{"rank":8.9e-6,"money":60000},
{"rank":1.12e-5,"money":0.1},{"rank":1.14e-5,"money":0.33},{"rank":1.1e-5,"money":1},{"rank":1.13e-5,"money":3.3},{"rank":1.12e-5,"money":10},{"rank":1.14e-5,"money":33},{"rank":1.1e-5,"money":100},{"rank":1.13e-5,"money":330},{"rank":1.12e-5,"money":1000},{"rank":1.14e-5,"money":3300},{"rank":1.1e-5,"money":10000},{"rank":1.13e-5,"money":33000},{"rank":1.12e-5,"money":90000},
{"rank":1.41e-5,"money":0.08},{"rank":1.44e-5,"money":0.25},{"rank":1.39e-5,"money":0.8},{"rank":1.42e-5,"money":2.5},{"rank":1.41e-5,"money":8},{"rank":1.44e-5,"money":25},{"rank":1.39e-5,"money":80},{"rank":1.42e-5,"money":250},{"rank":1.41e-5,"money":800},{"rank":1.44e-5,"money":2500},{"rank":1.39e-5,"money":8000},{"rank":1.42e-5,"money":25000},{"rank":1.41e-5,"money":80000},
{"rank":1.78e-5,"money":0.14},{"rank":1.81e-5,"money":0.45},{"rank":1.76e-5,"money":1.4},{"rank":1.8e-5,"money":4.5},{"rank":1.78e-5,"money":14},{"rank":1.81e-5,"money":45},{"rank":1.76e-5,"money":140},{"rank":1.8e-5,"money":450},{"rank":1.78e-5,"money":1400},{"rank":1.81e-5,"money":4500},{"rank":1.76e-5,"money":14000},{"rank":1.8e-5,"money":45000},{"rank":1.78e-5,"money":90000},
{"rank":2.24e-5,"money":0.18},{"rank":2.28e-5,"money":0.55},{"rank":2.2e-5,"money":1.8},{"rank":2.25e-5,"money":5.5},{"rank":2.24e-5,"money":18},{"rank":2.28e-5,"money":55},{"rank":2.2e-5,"money":180},{"rank":2.25e-5,"money":550},{"rank":2.24e-5,"money":1800},{"rank":2.28e-5,"money":5500},{"rank":2.2e-5,"money":18000},{"rank":2.25e-5,"money":55000},
{"rank":2.8e-5,"money":0.2},{"rank":2.85e-5,"money":0.65},{"rank":2.76e-5,"money":2},{"rank":2.82e-5,"money":6.5},{"rank":2.8e-5,"money":20},{"rank":2.85e-5,"money":65},{"rank":2.76e-5,"money":200},{"rank":2.82e-5,"money":650},{"rank":2.8e-5,"money":2000},{"rank":2.85e-5,"money":6500},{"rank":2.76e-5,"money":20000},{"rank":2.82e-5,"money":65000},
{"rank":3.55e-5,"money":0.4},{"rank":3.6e-5,"money":1.3},{"rank":3.5e-5,"money":4},{"rank":3.57e-5,"money":13},{"rank":3.55e-5,"money":40},{"rank":3.6e-5,"money":130},{"rank":3.5e-5,"money":400},{"rank":3.57e-5,"money":1300},{"rank":3.55e-5,"money":4000},{"rank":3.6e-5,"money":13000},{"rank":3.5e-5,"money":40000},{"rank":3.57e-5,"money":90000},
{"rank":4.5e-5,"money":0.7},{"rank":4.55e-5,"money":2.2},{"rank":4.4e-5,"money":7},{"rank":4.5e-5,"money":22},{"rank":4.55e-5,"money":70},{"rank":4.4e-5,"money":220},{"rank":4.5e-5,"money":700},{"rank":4.55e-5,"money":2200},{"rank":4.4e-5,"money":7000},{"rank":4.5e-5,"money":22000},{"rank":4.55e-5,"money":70000},
{"rank":5.6e-5,"money":0.9},{"rank":5.7e-5,"money":2.8},{"rank":5.5e-5,"money":9},{"rank":5.65e-5,"money":28},{"rank":5.6e-5,"money":90},{"rank":5.7e-5,"money":280},{"rank":5.5e-5,"money":900},{"rank":5.65e-5,"money":2800},{"rank":5.6e-5,"money":9000},{"rank":5.7e-5,"money":28000},{"rank":5.5e-5,"money":85000},
{"rank":7.1e-5,"money":1.2},{"rank":7.2e-5,"money":4},{"rank":7e-5,"money":12},{"rank":7.15e-5,"money":40},{"rank":7.1e-5,"money":120},{"rank":7.2e-5,"money":400},{"rank":7e-5,"money":1200},{"rank":7.15e-5,"money":4000},{"rank":7.1e-5,"money":12000},{"rank":7.2e-5,"money":40000},
{"rank":8.9e-5,"money":2},{"rank":9e-5,"money":6},{"rank":8.8e-5,"money":20},{"rank":8.95e-5,"money":60},{"rank":8.9e-5,"money":200},{"rank":9e-5,"money":2000},{"rank":8.8e-5,"money":6000},{"rank":8.95e-5,"money":20000},{"rank":8.9e-5,"money":60000},
{"rank":1.12e-4,"money":4},{"rank":1.14e-4,"money":13},{"rank":1.1e-4,"money":40},{"rank":1.13e-4,"money":130},{"rank":1.12e-4,"money":1500},{"rank":1.14e-4,"money":5000},{"rank":1.1e-4,"money":15000},{"rank":1.13e-4,"money":50000},
{"rank":1.41e-4,"money":6},{"rank":1.44e-4,"money":20},{"rank":1.39e-4,"money":60},{"rank":1.42e-4,"money":7000},{"rank":1.41e-4,"money":25000},{"rank":1.44e-4,"money":70000},
{"rank":3.6e-5,"money":0.15},{"rank":4.4e-5,"money":0.2},{"rank":5.1e-5,"money":0.25},{"rank":6e-5,"money":0.3},{"rank":7e-5,"money":0.5},{"rank":8e-5,"money":0.7},{"rank":1e-4,"money":1.2},{"rank":1.15e-4,"money":1.8},{"rank":1.4e-4,"money":2.2},{"rank":1.7e-4,"money":2.5},{"rank":2e-4,"money":4},{"rank":2.3e-4,"money":7},{"rank":2.6e-4,"money":10},{"rank":2.1e-4,"money":6.5},
{"rank":1.2e-4,"money":70},{"rank":1.35e-4,"money":45},{"rank":1.2e-4,"money":250},{"rank":1.35e-4,"money":350},{"rank":1.15e-4,"money":600},{"rank":1.45e-4,"money":800},{"rank":1.7e-4,"money":110},{"rank":1.5e-4,"money":60},{"rank":1.9e-4,"money":60},{"rank":2.1e-4,"money":30},{"rank":1.65e-4,"money":45},{"rank":1.9e-4,"money":25},{"rank":2.2e-4,"money":42},{"rank":2.6e-4,"money":28},{"rank":3e-4,"money":22},{"rank":1.7e-4,"money":3000},{"rank":1.4e-4,"money":3000},{"rank":1.9e-4,"money":8000},{"rank":1.8e-4,"money":14000},{"rank":2.3e-4,"money":30000},{"rank":2.2e-4,"money":60000},{"rank":2.6e-4,"money":55000},{"rank":2.9e-4,"money":40000},
{"rank":9e-7,"money":70000},{"rank":1.2e-6,"money":90000},{"rank":1.9e-6,"money":1.2e5},{"rank":2.5e-6,"money":1e5},{"rank":3e-6,"money":1.3e5},{"rank":3.5e-6,"money":1.5e5},{"rank":4.5e-6,"money":1.6e5},{"rank":6e-6,"money":1.4e5},{"rank":7e-6,"money":1.8e5},{"rank":9e-6,"money":1.6e5},{"rank":1.2e-5,"money":1.7e5},{"rank":1.5e-5,"money":1.9e5},{"rank":1.7e-5,"money":1.4e5},{"rank":2e-5,"money":1.5e5},{"rank":2.3e-5,"money":1.8e5},{"rank":2.7e-5,"money":1.2e5},{"rank":3.6e-5,"money":1.5e5},{"rank":4.3e-5,"money":1.7e5},{"rank":5e-5,"money":1.3e5},{"rank":6e-5,"money":1.2e5},{"rank":7e-5,"money":1.4e5},{"rank":8e-5,"money":1.1e5},{"rank":9.5e-5,"money":1e5},{"rank":1.1e-4,"money":1.3e5},{"rank":1.3e-4,"money":1.1e5},{"rank":1.5e-4,"money":1.3e5},{"rank":1.8e-4,"money":1.2e5},{"rank":2.2e-4,"money":1e5},
{"rank":2.3e-2,"money":2.9e7},{"rank":2e-2,"money":5.1e6},{"rank":2.25e-2,"money":3.7e6},{"rank":8e-3,"money":3.7e6},{"rank":8.9e-3,"money":1.9e6},{"rank":5.5e-3,"money":2e6},{"rank":2.3e-3,"money":9.4e5},{"rank":1.54e-3,"money":1.15e6},{"rank":1.36e-3,"money":8.6e5},{"rank":1.67e-3,"money":5.5e5},{"rank":1.46e-3,"money":5.3e5},{"rank":1e-3,"money":6.3e5},{"rank":8.5e-4,"money":6.3e5},{"rank":6.4e-4,"money":5.2e5},{"rank":1.25e-4,"money":1.6e6},{"rank":1.65e-4,"money":9.4e5},{"rank":1.46e-4,"money":4.7e5},{"rank":5.8e-5,"money":6.9e5},{"rank":4e-5,"money":5e5},{"rank":2.5e-5,"money":4.3e5},{"rank":3e-5,"money":3.4e5},{"rank":3.3e-5,"money":2.2e5},{"rank":1.77e-5,"money":2.5e5},{"rank":3e-5,"money":1.45e5},{"rank":2.5e-4,"money":3.4e5},{"rank":2.9e-4,"money":2.5e5},{"rank":2.7e-4,"money":1.8e5},{"rank":2.6e-4,"money":1.2e5},{"rank":1.13e-3,"money":3e5},{"rank":1.33e-3,"money":2.2e5},{"rank":8.1e-4,"money":2.1e5},{"rank":5.6e-4,"money":2.8e5},{"rank":5e-4,"money":2e5},{"rank":6.8e-4,"money":2.3e5},{"rank":7.5e-4,"money":1.6e5},{"rank":5.6e-4,"money":1.3e5},{"rank":4.5e-4,"money":1.2e5},{"rank":1.17e-3,"money":9.3e4},{"rank":8.7e-4,"money":9.3e4},{"rank":7.9e-4,"money":7.4e4},{"rank":9e-4,"money":6.3e4},{"rank":4.9e-4,"money":7e4},{"rank":3.9e-4,"money":8e4},{"rank":3e-4,"money":8e4},{"rank":2.4e-4,"money":7.2e4},{"rank":5.7e-4,"money":4.5e4},{"rank":5.2e-4,"money":4e4},{"rank":4e-4,"money":4.5e4},{"rank":3.2e-4,"money":3.6e4},{"rank":3.5e-4,"money":2.3e4},{"rank":4e-4,"money":1.7e4},{"rank":2.8e-4,"money":1.4e4},{"rank":5.2e-4,"money":1.25e4},{"rank":2.65e-4,"money":8700},{"rank":7.6e-4,"money":1e4},{"rank":7.5e-4,"money":6300},{"rank":9.5e-4,"money":3200},{"rank":1.9e-4,"money":4400},{"rank":2.2e-4,"money":2000},{"rank":1.8e-4,"money":2100},{"rank":1.5e-4,"money":2000},{"rank":1.66e-4,"money":1200},{"rank":3.6e-4,"money":1200},{"rank":6.6e-4,"money":1100},{"rank":3e-4,"money":740},{"rank":1.9e-4,"money":700},{"rank":1.3e-4,"money":500},{"rank":2.2e-4,"money":370},{"rank":4.7e-4,"money":410},{"rank":5.8e-4,"money":470},{"rank":3.2e-4,"money":320},{"rank":3.4e-4,"money":180},{"rank":5.6e-4,"money":175},{"rank":1.8e-3,"money":300},{"rank":3e-3,"money":1600},{"rank":5.3e-3,"money":500},{"rank":1.5e-4,"money":125},{"rank":2.3e-4,"money":95},{"rank":2.5e-4,"money":76},{"rank":2.5e-4,"money":55},{"rank":8.1e-4,"money":47},{"rank":6e-4,"money":44},{"rank":4.8e-4,"money":35},{"rank":8.5e-4,"money":30},{"rank":6.2e-4,"money":30},{"rank":3.6e-4,"money":30},{"rank":4.8e-4,"money":22},{"rank":2.8e-4,"money":20},{"rank":3.7e-4,"money":16},{"rank":2.3e-4,"money":12},{"rank":1.8e-4,"money":32},{"rank":2.8e-4,"money":4.8},{"rank":1.8e-4,"money":6.6},{"rank":9.7e-5,"money":2},{"rank":8e-5,"money":0.4},{"rank":1.3e-4,"money":0.5},{"rank":1.8e-4,"money":0.53},{"rank":6.7e-5,"money":0.13},{"rank":6.3e-5,"money":0.5},{"rank":4.6e-5,"money":0.54},{"rank":3.2e-5,"money":0.11},{"rank":2.2e-5,"money":0.1},{"rank":1.5e-5,"money":9e-3},{"rank":1.5e-5,"money":3.6e-3},{"rank":1.5e-5,"money":1.8e-3},{"rank":2.9e-5,"money":0.01},{"rank":2.9e-5,"money":1.8e-3},{"rank":3.8e-5,"money":0.033},{"rank":9e-5,"money":0.023},{"rank":8.9e-5,"money":0.13},{"rank":1.7e-5,"money":0.04},
{"rank":5.4e-8,"money":5.9e-8},{"rank":9.3e-8,"money":5.9e-8},{"rank":1.8e-7,"money":6.9e-8},{"rank":1.85e-7,"money":1.25e-7},{"rank":1.7e-7,"money":1e-7},{"rank":3.66e-8,"money":7.9e-8},{"rank":5.7e-8,"money":4.2e-7},{"rank":5.9e-8,"money":1e-6},{"rank":5.3e-8,"money":4.7e-6},{"rank":2.3e-7,"money":6.9e-6},{"rank":3.2e-7,"money":9e-6},{"rank":4.4e-7,"money":2e-5},{"rank":8.3e-7,"money":1.35e-5},{"rank":3.8e-7,"money":5.8e-5},{"rank":1.4e-7,"money":5.5e-5},{"rank":7.2e-8,"money":1.9e-5},{"rank":5.9e-8,"money":2.3e-5},{"rank":2.3e-6,"money":1.4e-3},{"rank":4.4e-6,"money":2.3e-3},{"rank":2e-6,"money":4.7e-3},{"rank":1.5e-6,"money":2.4e-3},{"rank":9.6e-7,"money":2e-3},{"rank":7.5e-7,"money":1.2e-3},{"rank":5.5e-7,"money":6.6e-4},{"rank":5.2e-7,"money":3.2e-4},{"rank":4.4e-7,"money":2e-4},{"rank":3.3e-7,"money":3.2e-4},{"rank":2.65e-7,"money":1.5e-4},{"rank":2.3e-7,"money":1e-4},{"rank":1.9e-7,"money":2.1e-4},{"rank":1.2e-7,"money":1.4e-4},{"rank":9.6e-8,"money":1.4e-4},{"rank":7.8e-8,"money":5.8e-5},{"rank":6.6e-8,"money":5.8e-5},{"rank":5e-8,"money":3.3e-5},{"rank":2.5e-6,"money":9.5e-3},{"rank":3.2e-6,"money":9.5e-3},{"rank":4e-6,"money":0.01},{"rank":5e-6,"money":0.015},{"rank":6.5e-6,"money":0.014},{"rank":7.6e-6,"money":8.7e-3},{"rank":8.7e-6,"money":0.019},{"rank":7.9e-6,"money":0.029},{"rank":1.2e-5,"money":0.05},
{"rank":3.4e-8,"money":1900},{"rank":4.4e-8,"money":1700},{"rank":5.6e-8,"money":2200},{"rank":7.9e-8,"money":1400},{"rank":1.15e-7,"money":12000},{"rank":1.15e-7,"money":6600},{"rank":1.15e-7,"money":4700},{"rank":1.5e-7,"money":19000},{"rank":2.3e-7,"money":23000},{"rank":4.3e-7,"money":1.1e5},{"rank":4.3e-7,"money":4e4},{"rank":5.8e-7,"money":7e4},{"rank":8.7e-7,"money":1.2e5},{"rank":1.7e-6,"money":1.6e5},{"rank":4e-6,"money":7e5},{"rank":4e-6,"money":4.3e5},{"rank":5e-6,"money":6.2e5},{"rank":5.8e-6,"money":4.3e5},{"rank":7e-6,"money":5.9e5},{"rank":4e-6,"money":1.6e5},{"rank":5e-6,"money":1.2e5},{"rank":2.8e-6,"money":1.1e5},{"rank":8e-6,"money":1.1e5},{"rank":1.07e-5,"money":3.4e5},{"rank":1e-5,"money":2.3e5},{"rank":1.3e-5,"money":4e5}
]},"layer":[{"mark":{"type":"square","size":96,"color":"#ff0000","stroke":"#000000","strokeWidth":1,"opacity":1},"encoding":{"x":{"field":"rank","type":"quantitative","scale":{"type":"log","domain":[1e-8,0.1],"nice":false},"title":"Page Rank","axis":{"values":[1e-8,2e-8,3e-8,4e-8,5e-8,6e-8,7e-8,8e-8,9e-8,1e-7,2e-7,3e-7,4e-7,5e-7,6e-7,7e-7,8e-7,9e-7,1e-6,2e-6,3e-6,4e-6,5e-6,6e-6,7e-6,8e-6,9e-6,1e-5,2e-5,3e-5,4e-5,5e-5,6e-5,7e-5,8e-5,9e-5,1e-4,2e-4,3e-4,4e-4,5e-4,6e-4,7e-4,8e-4,9e-4,1e-3,2e-3,3e-3,4e-3,5e-3,6e-3,7e-3,8e-3,9e-3,1e-2,2e-2,3e-2,4e-2,5e-2,6e-2,7e-2,8e-2,9e-2,0.1],"labelExpr":"abs(log(datum.value)/LN10-round(log(datum.value)/LN10))<0.001?'10'+['⁻⁸','⁻⁷','⁻⁶','⁻⁵','⁻⁴','⁻³','⁻²','⁻¹'][round(log(datum.value)/LN10)+8]:''","labelOverlap":false,"labelFlush":false,"labelFont":"DejaVu Sans","labelFontSize":17.5,"labelColor":"#222222","labelPadding":19,"titleFont":"DejaVu Sans","titleFontSize":19,"titleFontWeight":"normal","titleColor":"#222222","titlePadding":6,"grid":false,"domain":false,"tickColor":"#000000","tickSize":{"condition":{"test":"abs(log(datum.value)/LN10-round(log(datum.value)/LN10))<0.001","value":-7},"value":-3.5}}},"y":{"field":"money","type":"quantitative","scale":{"type":"log","domain":[1e-8,1e8],"nice":false},"title":"Money Earned","axis":{"values":[1e-8,1e-6,1e-4,1e-2,1,100,10000,1e6,1e8],"labelExpr":"'10'+{'-8':'⁻⁸','-6':'⁻⁶','-4':'⁻⁴','-2':'⁻²','0':'⁰','2':'²','4':'⁴','6':'⁶','8':'⁸'}[round(log(datum.value)/LN10)]","labelOverlap":false,"labelFlush":false,"labelFont":"DejaVu Sans","labelFontSize":19,"labelColor":"#222222","labelPadding":13,"titleFont":"DejaVu Sans","titleFontSize":18.5,"titleFontWeight":"normal","titleColor":"#222222","titlePadding":9,"grid":false,"domain":false,"tickColor":"#000000","tickSize":-7}}}},{"mark":{"type":"point","opacity":0},"encoding":{"x":{"field":"rank","type":"quantitative","scale":{"type":"log","domain":[1e-8,0.1],"nice":false},"axis":{"orient":"top","title":null,"labels":false,"domain":false,"grid":false,"tickColor":"#000000","values":[1e-8,2e-8,3e-8,4e-8,5e-8,6e-8,7e-8,8e-8,9e-8,1e-7,2e-7,3e-7,4e-7,5e-7,6e-7,7e-7,8e-7,9e-7,1e-6,2e-6,3e-6,4e-6,5e-6,6e-6,7e-6,8e-6,9e-6,1e-5,2e-5,3e-5,4e-5,5e-5,6e-5,7e-5,8e-5,9e-5,1e-4,2e-4,3e-4,4e-4,5e-4,6e-4,7e-4,8e-4,9e-4,1e-3,2e-3,3e-3,4e-3,5e-3,6e-3,7e-3,8e-3,9e-3,1e-2,2e-2,3e-2,4e-2,5e-2,6e-2,7e-2,8e-2,9e-2,0.1],"tickSize":{"condition":{"test":"abs(log(datum.value)/LN10-round(log(datum.value)/LN10))<0.001","value":-7},"value":-3.5}}},"y":{"field":"money","type":"quantitative","scale":{"type":"log","domain":[1e-8,1e8],"nice":false},"axis":{"orient":"right","title":null,"labels":false,"domain":false,"grid":false,"tickColor":"#000000","values":[1e-8,1e-6,1e-4,1e-2,1,100,10000,1e6,1e8],"tickSize":-7}}}}],"resolve":{"axis":{"x":"independent","y":"independent"}}}
